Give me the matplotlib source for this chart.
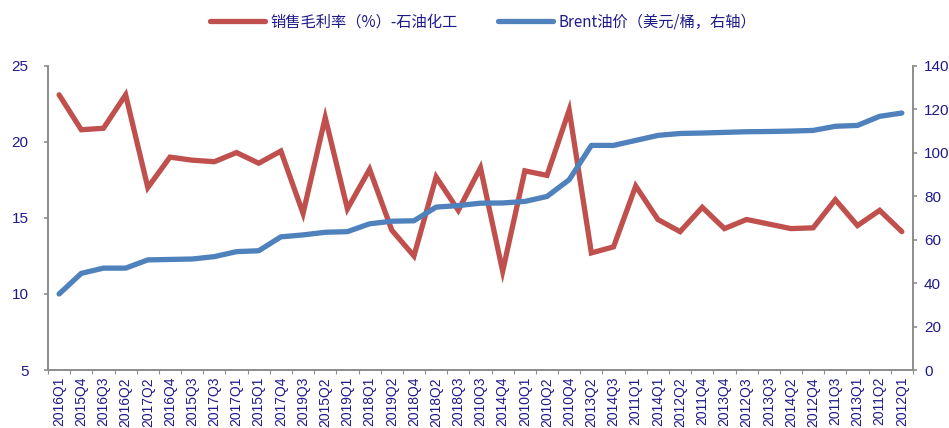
import numpy as np
import matplotlib
matplotlib.use("Agg")
import matplotlib.pyplot as plt

plt.rcParams['font.family'] = ['Liberation Sans', 'Noto Sans CJK SC', 'DejaVu Sans']

# trimestri (ordine come nel grafico originale)
trimestri = ["2016Q1", "2015Q4", "2016Q3", "2016Q2", "2017Q2", "2016Q4", "2015Q3",
             "2017Q3", "2017Q1", "2015Q1", "2017Q4", "2019Q3", "2015Q2", "2019Q1",
             "2018Q1", "2019Q2", "2018Q4", "2018Q2", "2018Q3", "2010Q3", "2014Q4",
             "2010Q1", "2010Q2", "2010Q4", "2013Q2", "2014Q3", "2011Q1", "2014Q1",
             "2012Q2", "2011Q4", "2013Q4", "2012Q3", "2013Q3", "2014Q2", "2012Q4",
             "2011Q3", "2013Q1", "2011Q2", "2012Q1"]

# margine lordo di vendita (%) - petrolchimico
margine = [23.1, 20.8, 20.9, 23.1, 17.0, 19.0, 18.8, 18.7, 19.3, 18.6,
           19.4, 15.3, 21.6, 15.6, 18.2, 14.2, 12.5, 17.7, 15.5, 18.3,
           11.5, 18.1, 17.8, 22.1, 12.7, 13.1, 17.1, 14.9, 14.1, 15.7,
           14.3, 14.9, 14.6, 14.3, 14.35, 16.2, 14.5, 15.5, 14.1]

# prezzo Brent (dollari/barile, asse destro)
brent = [35.0, 44.5, 46.9, 46.9, 50.7, 50.9, 51.1, 52.2, 54.5, 54.9,
         61.3, 62.2, 63.4, 63.7, 67.3, 68.5, 68.7, 75.0, 75.7, 76.8,
         76.9, 77.6, 79.9, 87.6, 103.4, 103.4, 105.7, 108.0, 108.9, 109.1,
         109.4, 109.7, 109.8, 110.0, 110.3, 112.2, 112.6, 116.8, 118.3]

rosso = "#C0504D"
blu = "#4F81BD"
col_testo = "#1F1A8A"
grigio = "#8C8C8C"

fig = plt.figure(figsize=(9.49, 4.28), dpi=100)
ax = fig.add_axes([0.0506, 0.1355, 0.9114, 0.7105])
ax2 = ax.twinx()

xx = np.arange(len(trimestri))
l1, = ax.plot(xx, margine, color=rosso, lw=3.8, solid_capstyle="round",
              solid_joinstyle="miter", label="销售毛利率（%）-石油化工")
l2, = ax2.plot(xx, brent, color=blu, lw=3.8, solid_capstyle="round",
               label="Brent油价（美元/桶，右轴）")

ax.set_xlim(-0.5, len(trimestri) - 0.5)
ax.set_ylim(5, 25)
ax.set_yticks([5, 10, 15, 20, 25])
ax2.set_ylim(0, 140)
ax2.set_yticks(np.arange(0, 141, 20))

# tacche sui bordi delle categorie, etichette al centro
ax.set_xticks(np.arange(-0.5, len(trimestri), 1), minor=False)
ax.set_xticklabels([])
ax.set_xticks(xx, minor=True)
ax.set_xticklabels(trimestri, minor=True, rotation=90, fontsize=10, color=col_testo)
ax.tick_params(axis="x", which="minor", length=0, pad=5)
ax.tick_params(axis="x", which="major", length=3, color=grigio, direction="out")

for a in (ax, ax2):
    a.spines["top"].set_visible(False)
    for s in ("left", "right", "bottom"):
        a.spines[s].set_color(grigio)
        a.spines[s].set_linewidth(1.2)
    a.tick_params(axis="y", length=3, color=grigio, labelcolor=col_testo,
                  labelsize=11, width=1.2)
ax.tick_params(axis="y", pad=11)
ax2.tick_params(axis="y", pad=5)

fig.legend(handles=[l1, l2], loc="upper center", bbox_to_anchor=(0.509, 1.0),
           ncol=2, frameon=False, handlelength=3.6, handletextpad=0.35,
           columnspacing=2.7, labelcolor=col_testo,
           prop={"family": ["Noto Sans CJK SC", "DejaVu Sans"], "size": 11})

plt.savefig("out.png", dpi=100)
